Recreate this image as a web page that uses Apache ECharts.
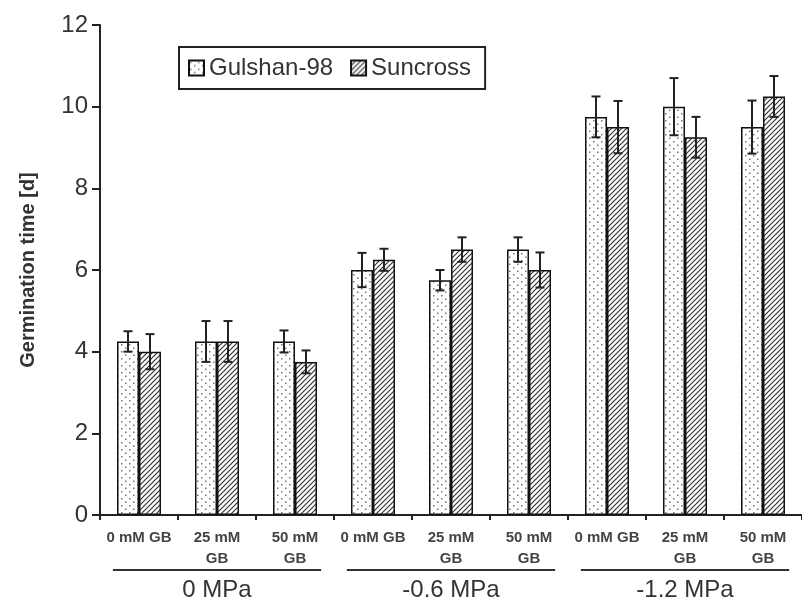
<!DOCTYPE html>
<html>
<head>
<meta charset="utf-8">
<script src="https://cdn.jsdelivr.net/npm/echarts@6/dist/echarts.min.js"></script>
<style>
html,body{margin:0;padding:0;background:#fff;}
#chart{width:802px;height:603px;}
</style>
</head>
<body>
<div id="chart"></div>
<script>
const categories = ['0 mM GB', '25 mM\nGB', '50 mM\nGB', '0 mM GB', '25 mM\nGB', '50 mM\nGB', '0 mM GB', '25 mM\nGB', '50 mM\nGB'];
const groups = ['0 MPa', '-0.6 MPa', '-1.2 MPa'];
const seriesNames = ['Gulshan-98', 'Suncross'];
const gulshan = [4.25, 4.25, 4.25, 6.0, 5.75, 6.5, 9.75, 10.0, 9.5];
const gulshanErr = [0.25, 0.5, 0.27, 0.42, 0.25, 0.3, 0.5, 0.7, 0.65];
const suncross = [4.0, 4.25, 3.75, 6.25, 6.5, 6.0, 9.5, 9.25, 10.25];
const suncrossErr = [0.43, 0.5, 0.28, 0.27, 0.3, 0.43, 0.64, 0.5, 0.5];
const yMin = 0, yMax = 12, yInterval = 2;

const FONT = "'Liberation Sans', Arial, Helvetica, sans-serif";

function dotPattern() {
  const c = document.createElement('canvas');
  c.width = 8; c.height = 7;
  const g = c.getContext('2d');
  g.fillStyle = '#fff'; g.fillRect(0, 0, 8, 7);
  g.fillStyle = '#777';
  g.fillRect(1, 1, 1.5, 1.5);
  g.fillRect(5, 4.5, 1.5, 1.5);
  return c;
}
function hatchPattern() {
  const s = 5;
  const c = document.createElement('canvas');
  c.width = s; c.height = s;
  const g = c.getContext('2d');
  g.fillStyle = '#fff'; g.fillRect(0, 0, s, s);
  g.strokeStyle = '#333'; g.lineWidth = 1.2;
  g.beginPath();
  g.moveTo(-1, s + 1); g.lineTo(s + 1, -1);
  g.moveTo(-1, 1); g.lineTo(1, -1);
  g.moveTo(s - 1, s + 1); g.lineTo(s + 1, s - 1);
  g.stroke();
  return c;
}

const BAR_W = 22;

function errSeries(vals, errs, offset) {
  return {
    type: 'custom',
    xAxisIndex: 0, yAxisIndex: 0,
    silent: true, z: 5,
    data: vals.map((v, i) => [i, v, errs[i]]),
    renderItem: function (params, api) {
      const i = api.value(0), v = api.value(1), e = api.value(2);
      const top = api.coord([i, v + e]);
      const bot = api.coord([i, v - e]);
      const x = top[0] + offset;
      const cap = 4.5;
      const st = { stroke: '#222', lineWidth: 2 };
      return {
        type: 'group',
        children: [
          { type: 'line', shape: { x1: x, y1: top[1], x2: x, y2: bot[1] }, style: st },
          { type: 'line', shape: { x1: x - cap, y1: top[1], x2: x + cap, y2: top[1] }, style: st },
          { type: 'line', shape: { x1: x - cap, y1: bot[1], x2: x + cap, y2: bot[1] }, style: st }
        ]
      };
    }
  };
}

const chart = echarts.init(document.getElementById('chart'));
chart.setOption({
  animation: false,
  backgroundColor: '#fff',
  textStyle: { fontFamily: FONT },
  grid: { left: 100, right: -4, top: 25, bottom: 88, containLabel: false },
  legend: {
    data: seriesNames,
    left: 179, top: 47,
    orient: 'horizontal',
    icon: 'rect',
    padding: [9, 14, 9, 9],
    itemGap: 17,
    itemWidth: 15, itemHeight: 15,
    borderColor: '#222', borderWidth: 2,
    textStyle: { fontSize: 24, color: '#333', fontFamily: FONT },
    selectedMode: false
  },
  xAxis: [
    {
      type: 'category',
      data: categories,
      axisLine: { show: true, lineStyle: { color: '#222', width: 2 } },
      axisTick: { show: true, length: 5, interval: 0, lineStyle: { color: '#222', width: 2 } },
      axisLabel: { interval: 0, margin: 12, fontSize: 15, fontWeight: 'bold', color: '#444', lineHeight: 21, fontFamily: FONT },
      splitLine: { show: false }
    },
    {
      type: 'category',
      data: groups,
      position: 'bottom',
      axisLine: { show: false },
      axisTick: { show: false },
      axisLabel: { interval: 0, margin: 63, fontSize: 24, color: '#333', fontFamily: FONT },
      splitLine: { show: false }
    }
  ],
  yAxis: {
    type: 'value',
    min: yMin, max: yMax, interval: yInterval,
    name: 'Germination time [d]',
    nameLocation: 'middle',
    nameGap: 62,
    nameTextStyle: { fontSize: 20, fontWeight: 'bold', color: '#333', fontFamily: FONT },
    axisLine: { show: true, lineStyle: { color: '#222', width: 2 } },
    axisTick: { show: true, length: 8, lineStyle: { color: '#222', width: 2 } },
    axisLabel: { fontSize: 24, color: '#333', margin: 12, fontFamily: FONT },
    splitLine: { show: false }
  },
  series: [
    {
      name: seriesNames[0], type: 'bar', data: gulshan,
      barWidth: BAR_W, barGap: '0%',
      itemStyle: { color: { image: dotPattern(), repeat: 'repeat' }, borderColor: '#111', borderWidth: 1.5 }
    },
    {
      name: seriesNames[1], type: 'bar', data: suncross,
      barWidth: BAR_W, barGap: '0%',
      itemStyle: { color: { image: hatchPattern(), repeat: 'repeat' }, borderColor: '#111', borderWidth: 1.5 }
    },
    errSeries(gulshan, gulshanErr, -BAR_W / 2),
    errSeries(suncross, suncrossErr, BAR_W / 2),
    {
      type: 'custom',
      xAxisIndex: 1, yAxisIndex: 0,
      silent: true, clip: false,
      data: groups.map((g, i) => [i, 0]),
      renderItem: function (params, api) {
        const p = api.coord([api.value(0), 0]);
        const w = api.size([1, 0])[0] * 0.89;
        const y = p[1] + 55;
        return { type: 'line', shape: { x1: p[0] - w / 2, y1: y, x2: p[0] + w / 2, y2: y }, style: { stroke: '#333', lineWidth: 2 } };
      }
    }
  ]
});
</script>
</body>
</html>
